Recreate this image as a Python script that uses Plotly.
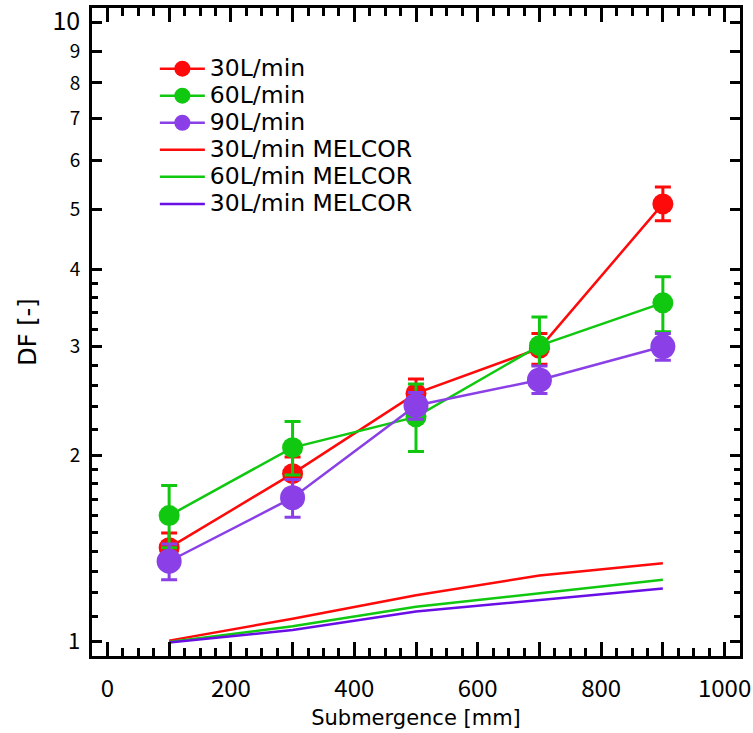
import plotly.graph_objects as go

# ---- data ----
submergence = [100, 300, 500, 700, 900]

df_30 = [1.42, 1.87, 2.52, 2.98, 5.10]
err_30_up = [0.08, 0.12, 0.14, 0.17, 0.33]
err_30_dn = [0.08, 0.12, 0.14, 0.17, 0.31]

df_60 = [1.60, 2.06, 2.31, 3.01, 3.53]
err_60_up = [0.19, 0.21, 0.30, 0.34, 0.36]
err_60_dn = [0.18, 0.20, 0.28, 0.30, 0.36]

df_90 = [1.35, 1.71, 2.41, 2.65, 3.00]
err_90_up = [0.09, 0.12, 0.12, 0.14, 0.15]
err_90_dn = [0.09, 0.12, 0.12, 0.13, 0.15]

melcor_30 = [1.005, 1.09, 1.19, 1.28, 1.34]
melcor_60 = [1.00, 1.06, 1.14, 1.20, 1.26]
melcor_90 = [0.998, 1.045, 1.12, 1.17, 1.22]

names = ["30L/min", "60L/min", "90L/min",
         "30L/min MELCOR", "60L/min MELCOR", "30L/min MELCOR"]

y_major = [1, 2, 3, 4, 5, 6, 7, 8, 9, 10]
y_major_text = ['<span style="font-size:22px">1</span>', "2", "3", "4", "5",
                "6", "7", "8", "9", '<span style="font-size:25px">10</span>']
y_minor = [1.1, 1.2, 1.3, 1.4, 1.5, 1.6, 1.7, 1.8, 1.9,
           2.2, 2.4, 2.6, 2.8, 3.2, 3.4, 3.6, 3.8]

RED = "#ff0a0a"
GREEN = "#10c810"
PURPLE = "#8a40e6"
VIOLET = "#6a0ee6"


def legend_label(s):
    return '<span style="font-size:23.5px">' + s + "</span>"


fig = go.Figure()


def exp_trace(y, up, dn, color, name, size):
    return go.Scatter(
        x=submergence, y=y, name=legend_label(name), mode="lines+markers",
        line=dict(color=color, width=2.5),
        marker=dict(color=color, size=size, symbol="circle"),
        error_y=dict(type="data", array=up, arrayminus=dn, symmetric=False,
                     color=color, thickness=3, width=8),
    )


fig.add_trace(exp_trace(df_30, err_30_up, err_30_dn, RED, names[0], 21))
fig.add_trace(exp_trace(df_60, err_60_up, err_60_dn, GREEN, names[1], 21))
fig.add_trace(exp_trace(df_90, err_90_up, err_90_dn, PURPLE, names[2], 25))

for y, c, n in [(melcor_30, RED, names[3]), (melcor_60, GREEN, names[4]),
                (melcor_90, VIOLET, names[5])]:
    fig.add_trace(go.Scatter(x=submergence, y=y, name=legend_label(n),
                             mode="lines", line=dict(color=c, width=2.5)))

axis_common = dict(
    showline=True, linecolor="black", linewidth=3, mirror="ticks",
    ticks="inside", tickcolor="black", tickwidth=3,
    showgrid=False, zeroline=False, automargin=False,
)

fig.update_xaxes(
    **axis_common,
    range=[-25, 1025], tickmode="linear", tick0=0, dtick=100, ticklabelstep=2,
    ticklen=14,
    minor=dict(ticks="inside", dtick=25, tick0=0, ticklen=8, tickwidth=3,
               tickcolor="black", showgrid=False),
    tickfont=dict(family="Noto Sans CJK JP", size=24, color="black"),
    ticklabelstandoff=9,
    title=dict(text="Submergence [mm]",
               font=dict(family="DejaVu Sans", size=21, color="black"),
               standoff=8),
)

fig.update_yaxes(
    **axis_common,
    type="log", range=[-0.0227, 1.024],
    tickmode="array", tickvals=y_major, ticktext=y_major_text, ticklen=10,
    minor=dict(ticks="inside", tickmode="array", tickvals=y_minor, ticklen=6,
               tickwidth=3, tickcolor="black", showgrid=False),
    tickfont=dict(family="Noto Sans CJK JP", size=19, color="black"),
    ticklabelstandoff=5,
    title=dict(text="DF [-]",
               font=dict(family="DejaVu Sans", size=24, color="black"),
               standoff=10),
)

fig.update_layout(
    width=753, height=733,
    margin=dict(l=92, r=13, t=8, b=77),
    paper_bgcolor="white", plot_bgcolor="white",
    showlegend=True,
    legend=dict(x=0.097, y=0.935, xanchor="left", yanchor="top",
                bgcolor="rgba(0,0,0,0)", borderwidth=0, itemwidth=45,
                font=dict(family="DejaVu Sans", size=18.5, color="black"),
                tracegroupgap=0),
)

fig.write_html("out.html")
